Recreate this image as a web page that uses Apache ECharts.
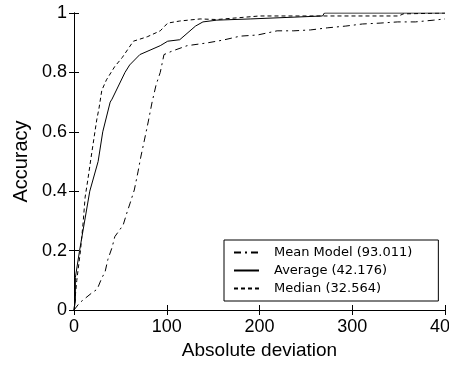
<!DOCTYPE html>
<html><head><meta charset="utf-8">
<script src="https://cdn.jsdelivr.net/npm/echarts@6/dist/echarts.min.js"></script>
<style>html,body{margin:0;padding:0;background:#fff}#c{width:449px;height:369px}</style>
</head><body><div id="c"></div>
<script>
var seriesNames = ['Mean Model (93.011)', 'Average (42.176)', 'Median (32.564)'];
var xTicks = [0, 100, 200, 300, 400];
var yTicks = [0, 0.2, 0.4, 0.6, 0.8, 1];

var meanX = [0, 6, 19, 25, 30, 33.5, 36.5, 41, 44, 53, 57, 60.5, 65, 69, 72, 75.5, 80, 84, 88.5, 93, 95, 97, 106, 122, 143, 161, 179, 198, 219, 237, 255, 273, 293, 311, 330, 349, 368, 388, 400];
var meanY = [0, 0.024, 0.057, 0.07, 0.108, 0.128, 0.17, 0.21, 0.247, 0.286, 0.327, 0.36, 0.404, 0.465, 0.515, 0.566, 0.633, 0.697, 0.758, 0.80, 0.83, 0.86, 0.872, 0.89, 0.899, 0.909, 0.922, 0.926, 0.94, 0.94, 0.943, 0.95, 0.956, 0.963, 0.966, 0.97, 0.97, 0.976, 0.98];

var avgX = [0, 1.5, 1.5, 6, 17, 26, 31, 39, 41, 55, 60, 71, 82, 93, 101, 114, 131, 139, 154, 190, 268, 270, 400];
var avgY = [0, 0.03, 0.11, 0.2, 0.4, 0.5, 0.6, 0.7, 0.71, 0.8, 0.825, 0.86, 0.875, 0.89, 0.905, 0.91, 0.956, 0.97, 0.976, 0.98, 0.99, 1.0, 1.0];

var medX = [0, 3, 7, 10, 12, 15, 18, 21.6, 24.5, 27, 30, 35, 44, 52, 64, 79, 93, 101, 114, 136, 154, 200, 350, 355, 400];
var medY = [0, 0.1, 0.2, 0.3, 0.38, 0.44, 0.505, 0.58, 0.64, 0.68, 0.74, 0.775, 0.82, 0.85, 0.905, 0.92, 0.94, 0.966, 0.973, 0.98, 0.978, 0.99, 0.99, 0.997, 1.0];

function zip(xs, ys) { return xs.map(function (x, i) { return [x, ys[i]]; }); }

var FONT = '"Liberation Sans", Arial, sans-serif';
var chart = echarts.init(document.getElementById('c'), null, {renderer: 'canvas'});
var axisCommon = {
  axisLine: {show: true, lineStyle: {color: '#000', width: 1}},
  axisTick: {show: true, inside: true, length: 5, lineStyle: {color: '#000'}},
  splitLine: {show: false}
};
chart.setOption({
  animation: false,
  backgroundColor: '#fff',
  grid: {left: 74, right: 4, top: 13, bottom: 59, containLabel: false, outerBoundsMode: 'none'},
  xAxis: [
    Object.assign({
      type: 'value', min: xTicks[0], max: xTicks[xTicks.length - 1], interval: 100,
      position: 'bottom',
      axisLabel: {color: '#000', fontSize: 18, fontFamily: FONT, margin: 8, hideOverlap: false},
      name: 'Absolute deviation', nameLocation: 'middle', nameGap: 30,
      nameTextStyle: {color: '#000', fontSize: 19, fontFamily: FONT}
    }, axisCommon),
    Object.assign({
      type: 'value', min: 0, max: 400, interval: 100, position: 'top',
      axisLabel: {show: false}
    }, axisCommon)
  ],
  yAxis: [
    Object.assign({
      type: 'value', min: yTicks[0], max: yTicks[yTicks.length - 1], interval: 0.2,
      position: 'left',
      axisLabel: {color: '#000', fontSize: 18, fontFamily: FONT, margin: 7},
      name: 'Accuracy', nameLocation: 'middle', nameGap: 41,
      nameTextStyle: {color: '#000', fontSize: 20, fontFamily: FONT}
    }, axisCommon),
    Object.assign({
      type: 'value', min: 0, max: 1, interval: 0.2, position: 'right',
      axisLabel: {show: false}
    }, axisCommon)
  ],
  legend: {
    orient: 'vertical', left: 224, top: 240,
    backgroundColor: '#fff', borderColor: '#000', borderWidth: 1, borderRadius: 0,
    padding: [6, 26, 6, 9], itemWidth: 25, itemHeight: 14, itemGap: 5,
    itemStyle: {opacity: 0},
    textStyle: {color: '#000', fontSize: 13, fontFamily: '"DejaVu Sans", sans-serif', padding: [0, 0, 0, 10]},
    data: seriesNames
  },
  series: [
    {name: seriesNames[0], type: 'line', data: zip(meanX, meanY), symbol: 'none',
     lineStyle: {color: '#000', width: 1, type: [7, 4, 2, 4]}, itemStyle: {color: '#000'}},
    {name: seriesNames[1], type: 'line', data: zip(avgX, avgY), symbol: 'none',
     lineStyle: {color: '#000', width: 1, type: 'solid'}, itemStyle: {color: '#000'}},
    {name: seriesNames[2], type: 'line', data: zip(medX, medY), symbol: 'none',
     lineStyle: {color: '#000', width: 1, type: [4, 3]}, itemStyle: {color: '#000'}}
  ]
});
</script></body></html>
